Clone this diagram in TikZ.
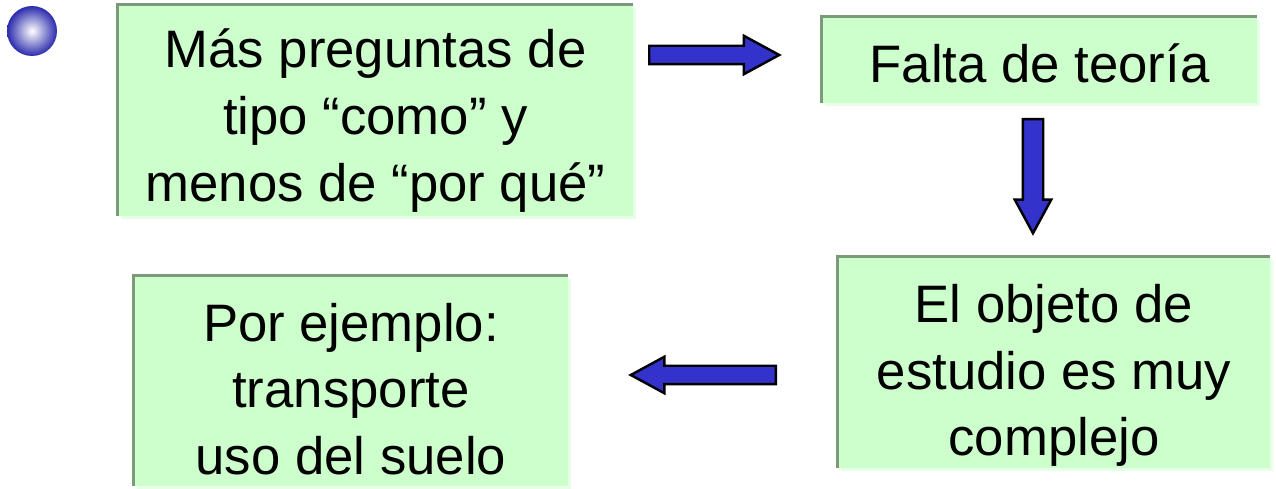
\documentclass[tikz,border=0pt]{standalone}
\usepackage{fontspec}
\setmainfont{Liberation Sans}
\usepackage{xcolor}
\usetikzlibrary{shapes.arrows,shadows}

\definecolor{boxgreen}{HTML}{CCFFCC}
\definecolor{edgegreen}{HTML}{7A9A7A}
\definecolor{shadegreen}{HTML}{E6FFE6}
\definecolor{arrowblue}{HTML}{3333CC}

\begin{document}
\begin{tikzpicture}[x=0.02cm, y=-0.02cm,
    box/.style={rectangle, fill=boxgreen, inner sep=0pt,
        drop shadow={fill=shadegreen, opacity=1, shadow xshift=0.06cm, shadow yshift=-0.06cm}},
    boxtext/.style={align=center, inner sep=0pt, font=\fontsize{30}{38}\selectfont},
    boxedge/.style={draw=edgegreen, line width=0.06cm},
    blockarrow/.style={single arrow, draw=black, line width=1.4pt, fill=arrowblue,
        anchor=tail, inner xsep=0pt, inner ysep=0.16cm, single arrow head extend=0.2cm,
        single arrow tip angle=57}]
    \useasboundingbox (0,0) rectangle (1276,489);

    % bullet
    \node[circle, inner sep=0pt, minimum width=1cm, inner color=white,
        outer color=arrowblue!85!black] (dot) at (32,31) {};

    % boxes
    \node[box, minimum width=10.3cm, minimum height=4.22cm] (why) at (375.5,110.5) {};
    \node[box, minimum width=8.7cm, minimum height=1.72cm] (theory) at (1039.5,60) {};
    \node[box, minimum width=8.64cm, minimum height=4.22cm] (object) at (1054,362.5) {};
    \node[box, minimum width=8.68cm, minimum height=4.2cm] (example) at (351,381) {};

    \foreach \b in {why,theory,object,example}
        \draw[boxedge] (\b.south west) -- (\b.north west) -- (\b.north east);

    % texts
    \node[boxtext] (why-t) at ([yshift=-0.2cm]why.center)
        {Más preguntas de\\tipo “como” y\\menos de “por qué”};
    \node[boxtext] (theory-t) at ([yshift=-0.06cm]theory.center) {Falta de teoría};
    \node[boxtext] (object-t) at ([yshift=-0.26cm]object.center)
        {El objeto de\\estudio es muy\\complejo};
    \node[boxtext] (example-t) at ([yshift=-0.16cm]example.center)
        {Por ejemplo:\\transporte\\uso del suelo};

    % arrows
    \node[blockarrow, minimum height=2.6cm] (arr1) at (648,55) {};
    \node[blockarrow, minimum height=2.28cm, inner xsep=0.18cm, inner ysep=0pt,
        single arrow head extend=0.16cm, shape border rotate=270] (arr2) at (1033,118) {};
    \node[blockarrow, minimum height=2.9cm, single arrow head extend=0.18cm,
        shape border rotate=180] (arr3) at (777,375) {};
\end{tikzpicture}
\end{document}
